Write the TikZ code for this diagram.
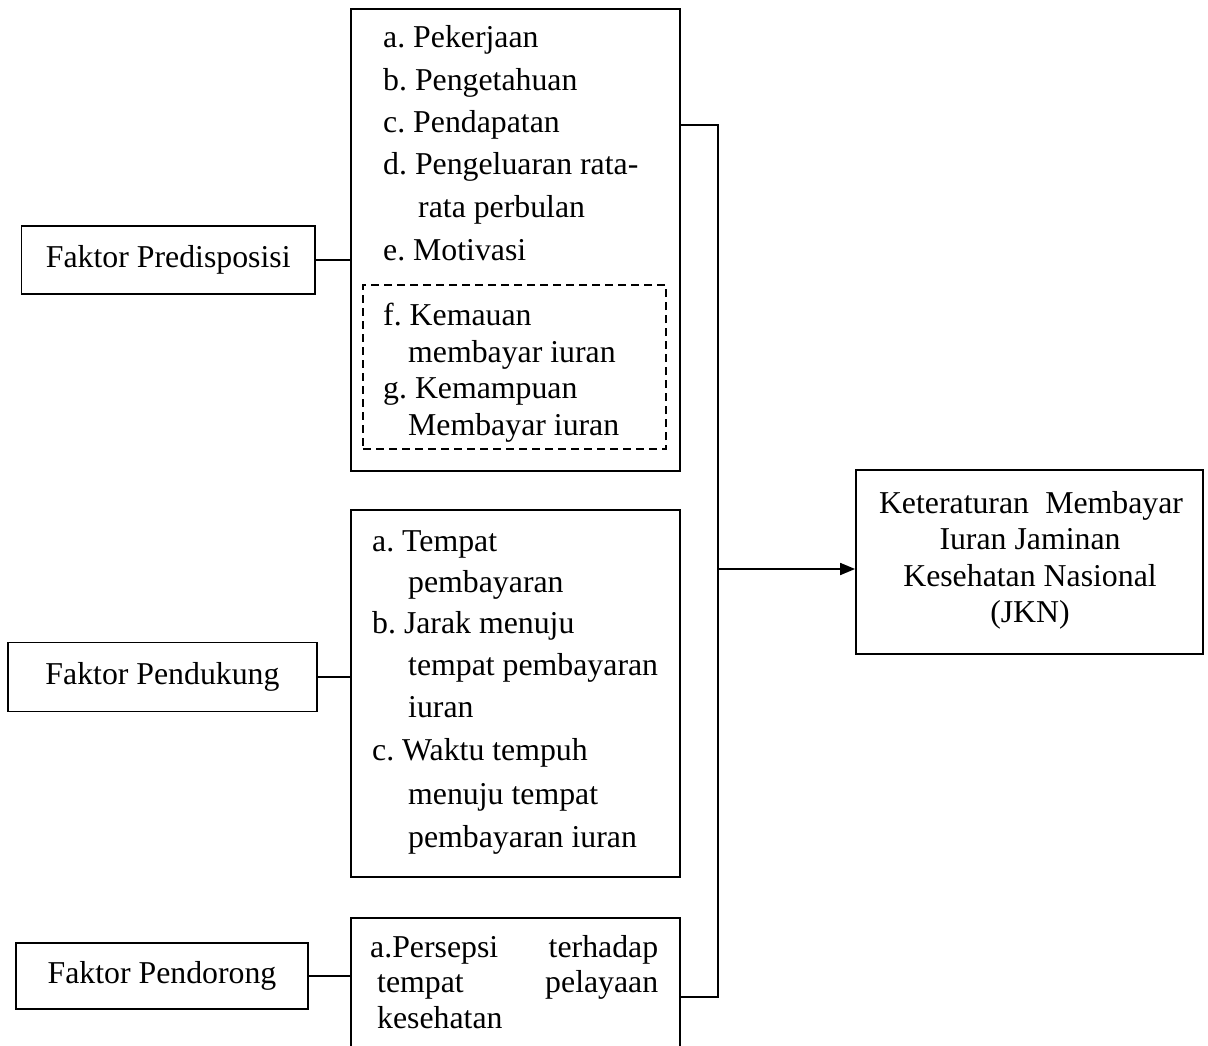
\documentclass[tikz,border=0pt]{standalone}
\usepackage{fontspec}
\setmainfont{Liberation Serif}
\usetikzlibrary{arrows.meta}
\frenchspacing
\begin{document}
\begin{tikzpicture}[x=1pt,y=-1pt,
  every node/.style={font=\fontsize{31.8}{37}\selectfont},
  box/.style={draw, line width=1.8pt, inner sep=0pt, align=center},
  dbox/.style={draw, line width=1.5pt, dash pattern=on 8pt off 5pt, inner sep=0pt},
  item/.style={anchor=base west, inner sep=0pt},
  citem/.style={anchor=base, inner sep=0pt},
  conn/.style={line width=1.8pt},
  arr/.style={line width=1.8pt, -{Triangle[length=15pt,width=12pt]}}]
\clip (0,0) rectangle (1208,1046);
\fill[white] (0,0) rectangle (1208,1046);

% left factor boxes
\node[box, minimum width=293.5pt, minimum height=68pt] (pred) at (168.25,260) {Faktor Predisposisi};
\node[box, minimum width=309pt, minimum height=69pt] (pend) at (162.5,677) {Faktor Pendukung};
\node[box, minimum width=292pt, minimum height=66pt] (dor) at (162,976) {Faktor Pendorong};

% middle boxes
\node[box, minimum width=329pt, minimum height=462pt] (b1) at (515.5,240) {};
\node[dbox, minimum width=303pt, minimum height=164pt] (dash) at (514.5,367) {};
\node[box, minimum width=329pt, minimum height=367pt] (b2) at (515.5,693.5) {};
\node[box, minimum width=329pt, minimum height=162pt] (b3) at (515.5,999) {};

% target box
\node[box, minimum width=347pt, minimum height=184pt] (jkn) at (1029.5,562) {};

% box 1 text
\node[item] (t1a) at (383,48) {a. Pekerjaan};
\node[item] (t1b) at (383,91) {b. Pengetahuan};
\node[item] (t1c) at (383,133) {c. Pendapatan};
\node[item] (t1d) at (383,175) {d. Pengeluaran rata-};
\node[item] (t1d2) at (418,218) {rata perbulan};
\node[item] (t1e) at (383,260) {e. Motivasi};
\node[item] (t1f) at (383,325) {f. Kemauan};
\node[item] (t1f2) at (408,362) {membayar iuran};
\node[item] (t1g) at (383,398) {g. Kemampuan};
\node[item] (t1g2) at (408,435) {Membayar iuran};

% box 2 text
\node[item] (t2a) at (372,551) {a. Tempat};
\node[item] (t2a2) at (408,592) {pembayaran};
\node[item] (t2b) at (372,633) {b. Jarak menuju};
\node[item] (t2b2) at (408,675) {tempat pembayaran};
\node[item] (t2b3) at (408,717) {iuran};
\node[item] (t2c) at (372,760) {c. Waktu tempuh};
\node[item] (t2c2) at (408,804) {menuju tempat};
\node[item] (t2c3) at (408,847) {pembayaran iuran};

% box 3 text
\node[item] (t3a) at (370,957) {\makebox[288pt][l]{a.Persepsi\hfill terhadap}};
\node[item] (t3a2) at (377,992) {\makebox[281pt][l]{tempat\hfill pelayaan}};
\node[item] (t3a3) at (377,1028) {kesehatan};

% target text
\node[citem] (tj1) at (1031,513) {\makebox[304pt][l]{Keteraturan\hfill Membayar}};
\node[citem] (tj2) at (1030,549) {Iuran Jaminan};
\node[citem] (tj3) at (1030,586) {Kesehatan Nasional};
\node[citem] (tj4) at (1030,622) {(JKN)};

% connectors
\draw[conn] (pred.east) -- (pred.east -| b1.west);
\draw[conn] (pend.east) -- (pend.east -| b2.west);
\draw[conn] (dor.east) -- (dor.east -| b3.west);

\coordinate (bt) at (718,125);
\coordinate (bb) at (718,997);
\coordinate (bj) at (718,569);
\draw[conn] (bt -| b1.east) -- (bt) -- (bb) -- (bb -| b3.east);
\draw[arr] (bj) -- (bj -| jkn.west);
\end{tikzpicture}
\end{document}
